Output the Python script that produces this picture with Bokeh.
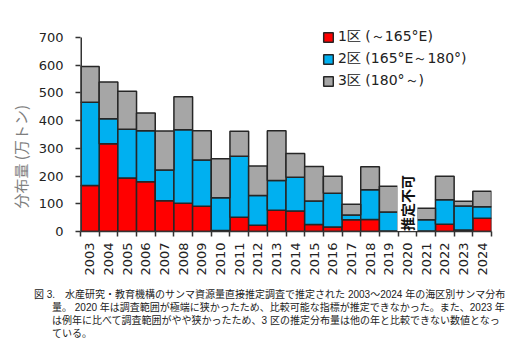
import math
from bokeh.plotting import figure
from bokeh.layouts import column
from bokeh.models import (ColumnDataSource, Range1d, FixedTicker, Legend, LegendItem, Label, Title, Div)
from bokeh.embed import file_html
from bokeh.resources import INLINE

nan = float("nan")
years = ["2003", "2004", "2005", "2006", "2007", "2008", "2009", "2010", "2011", "2012", "2013",
         "2014", "2015", "2016", "2017", "2018", "2019", "2020", "2021", "2022", "2023", "2024"]
zone1 = [166, 317, 193, 180, 111, 102, 91, 4, 51, 23, 77, 74, 25, 16, 42, 43, 2, nan, 2, 26, 5, 48]
zone2 = [301, 90, 176, 184, 111, 265, 167, 118, 221, 107, 107, 122, 85, 122, 18, 108, 68, nan, 40, 89, 87, 41]
zone3 = [129, 133, 137, 64, 141, 119, 106, 141, 90, 106, 180, 86, 125, 61, 38, 83, 93, nan, 42, 84, 17, 56]
series_labels = ["1区 (～165°E)", "2区 (165°E～180°)", "3区 (180°～)"]
colors = ["#FF0000", "#00B0F0", "#A6A6A6"]
y_ticks = [0, 100, 200, 300, 400, 500, 600, 700]
y_label = "分布量 (万トン)"
missing_year = "2020"
missing_text = "推定不可"
caption = [
    "図 3.　水産研究・教育機構のサンマ資源量直接推定調査で推定された 2003～2024 年の海区別サンマ分布",
    "量。 2020 年は調査範囲が極端に狭かったため、比較可能な指標が推定できなかった。また、2023 年",
    "は例年に比べて調査範囲がやや狭かったため、3 区の推定分布量は他の年と比較できない数値となっ",
    "ている。",
]

xpos = [i + 0.5 for i in range(len(years))]
source = ColumnDataSource(dict(x=xpos, z1=zone1, z2=zone2, z3=zone3))

W, H1, H2 = 528, 280, 79
y_top = 740
p = figure(width=W, height=H1, output_backend="svg", toolbar_location=None,
           x_range=Range1d(0, len(years)), y_range=Range1d(0, y_top),
           min_border_left=80, min_border_right=37, min_border_top=26, min_border_bottom=49)
p.outline_line_color = None
p.xgrid.visible = False
p.ygrid.visible = False
p.background_fill_color = "white"
p.border_fill_color = "white"

renderers = p.vbar_stack(["z1", "z2", "z3"], x="x", width=1.0, source=source,
                         fill_color=colors, line_color="#262626", line_width=1.5)

# y axis line only up to the top tick
p.segment(x0=[0], y0=[0], x1=[0], y1=[y_ticks[-1]], line_color="#333333", line_width=3)

font = "DejaVu Sans"
ya = p.yaxis[0]
ya.ticker = FixedTicker(ticks=y_ticks)
ya.major_label_text_font = font
ya.major_label_text_font_size = "13px"
ya.major_label_text_color = "#222222"
ya.major_tick_out = 5
ya.major_tick_in = 0
ya.minor_tick_out = 0
ya.minor_tick_in = 0
ya.axis_line_color = None
ya.major_tick_line_color = "#333333"
ya.major_tick_line_width = 1.5
ya.major_label_standoff = 12

xa = p.xaxis[0]
xa.ticker = FixedTicker(ticks=xpos, minor_ticks=list(range(len(years) + 1)))
xa.major_label_overrides = {x: y for x, y in zip(xpos, years)}
xa.major_label_orientation = math.pi / 2
xa.major_label_text_font = font
xa.major_label_text_font_size = "13px"
xa.major_label_text_color = "#222222"
xa.major_tick_out = 0
xa.major_tick_in = 0
xa.minor_tick_out = 5
xa.minor_tick_in = 0
xa.minor_tick_line_color = "#333333"
xa.minor_tick_line_width = 1.5
xa.axis_line_color = "#333333"
xa.axis_line_width = 1.5
xa.major_label_standoff = 6

legend = Legend(items=[LegendItem(label=lab, renderers=[r]) for lab, r in zip(series_labels, renderers)],
                location=(242, 139), orientation="vertical",
                glyph_width=12, glyph_height=12, label_height=22, spacing=0,
                label_standoff=4, padding=0, margin=0,
                border_line_color=None, background_fill_alpha=0,
                label_text_font=font, label_text_font_size="14px", label_text_color="#222222")
p.add_layout(legend, "center")

p.add_layout(Title(text=y_label, align="left", offset=23, text_font="Noto Sans CJK JP",
                   text_font_size="15px", text_font_style="normal", text_color="#7F7F7F"), "left")

mi = years.index(missing_year)
p.add_layout(Label(x=xpos[mi], y=2, text=missing_text, angle=math.pi / 2,
                   text_align="left", text_baseline="middle", text_font="Noto Sans CJK JP",
                   text_font_size="14px", text_font_style="bold", text_color="#111111",
                   background_fill_color="white"))

# caption below the chart
cap_left = [34, 52, 52, 52]
cap_top = [9, 22, 35, 48]
lines_html = "".join(
    f'<div style="position:absolute;left:{l}px;top:{t}px;white-space:nowrap;">{txt}</div>'
    for txt, l, t in zip(caption, cap_left, cap_top))
cap = Div(text=f'<div style="position:relative;width:{W}px;height:{H2}px;'
               f'font-family:\'Liberation Sans\',\'Noto Sans CJK JP\';font-size:10px;'
               f'line-height:12px;color:#222222;">'
               f'{lines_html}</div>',
          width=W, height=H2, margin=0)

layout = column(p, cap, spacing=0)
open("out.html", "w").write(file_html(layout, INLINE))
